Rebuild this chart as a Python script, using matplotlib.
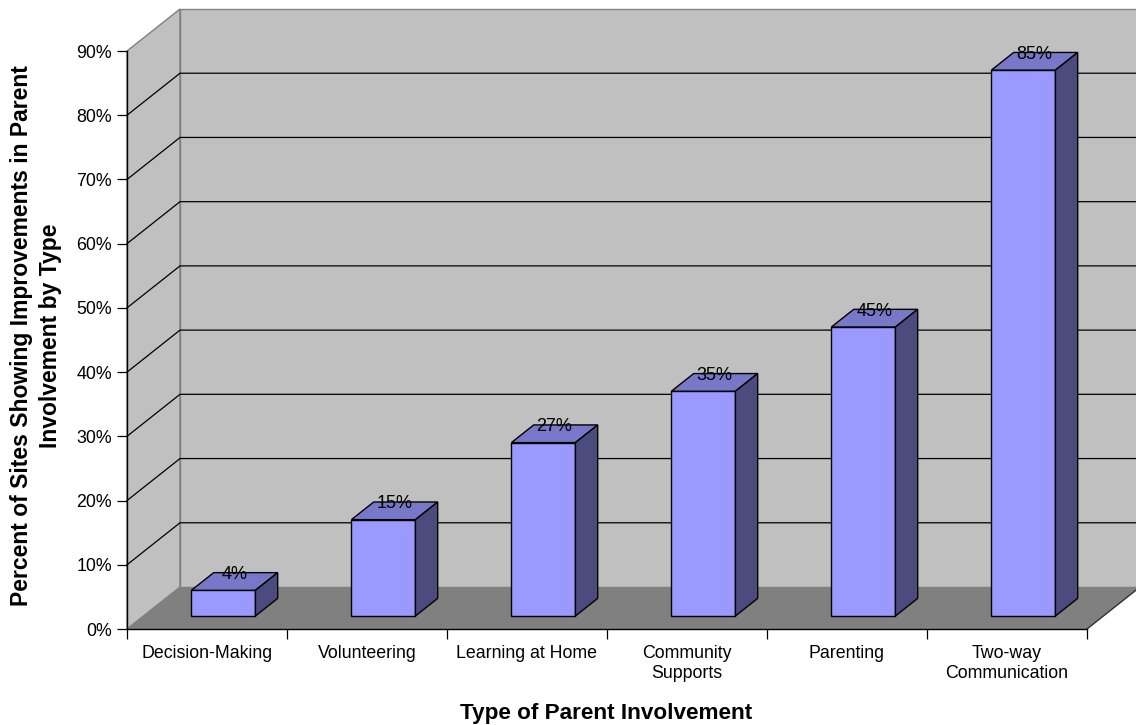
import matplotlib
matplotlib.use("Agg")
import matplotlib.pyplot as plt
from matplotlib.patches import Polygon
from matplotlib.ticker import PercentFormatter

categories = [
    "Decision-Making",
    "Volunteering",
    "Learning at Home",
    "Community\nSupports",
    "Parenting",
    "Two-way\nCommunication",
]
values = [4, 15, 27, 35, 45, 85]
y_ticks = list(range(0, 100, 10))

plt.rcParams["font.family"] = ["Liberation Sans", "DejaVu Sans"]

# pseudo-3D box: a unit of depth shifts right by DEPTH_X categories and up by DEPTH_Y percent
DEPTH_X = 53 / 160
DEPTH_Y = 42 / (578 / 90)
BAR_FRONT, BAR_BACK = 0.31, 0.73
BAR_LEFT, BAR_RIGHT = 0.3, 0.7

WALL = "#C0C0C0"
FLOOR = "#808080"
EDGE = "#808080"
BAR_FACE = "#9999FF"
BAR_TOP = "#7878C8"
BAR_SIDE = "#4B4B7E"


def proj(x, y, d):
    return (x + d * DEPTH_X, y + d * DEPTH_Y)


def face(ax, points, color, z, edge="black", lw=1.0):
    ax.add_patch(Polygon([proj(*p) for p in points], closed=True, facecolor=color,
                         edgecolor=edge, linewidth=lw, zorder=z, clip_on=False,
                         joinstyle="miter"))


n = len(categories)
top = y_ticks[-1]

fig = plt.figure(figsize=(11.36, 7.25), dpi=100)
ax = fig.add_axes([127 / 1136, 1 - 629 / 725, 960 / 1136, 578 / 725])
ax.set_xlim(0, n)
ax.set_ylim(0, top)
ax.patch.set_visible(False)

# walls and floor
face(ax, [(0, 0, 0), (0, top, 0), (0, top, 1), (0, 0, 1)], WALL, 0.5, edge=EDGE)
face(ax, [(0, 0, 1), (0, top, 1), (n, top, 1), (n, 0, 1)], WALL, 0.5, edge=EDGE)
for v in y_ticks[1:-1]:
    pts = [proj(0, v, 0), proj(0, v, 1), proj(n, v, 1)]
    ax.plot([p[0] for p in pts], [p[1] for p in pts], color="black", lw=0.9,
            zorder=0.6, clip_on=False)
face(ax, [(0, 0, 0), (n, 0, 0), (n, 0, 1), (0, 0, 1)], FLOOR, 0.7, edge="none")
edge_pts = [proj(n, 0, 0), proj(n, 0, 1)]
ax.plot([p[0] for p in edge_pts], [p[1] for p in edge_pts], color="#303030", lw=1.0,
        zorder=0.8, clip_on=False)

# bars
for i, v in enumerate(values):
    x0, x1 = i + BAR_LEFT, i + BAR_RIGHT
    face(ax, [(x0, 0, BAR_FRONT), (x1, 0, BAR_FRONT), (x1, v, BAR_FRONT), (x0, v, BAR_FRONT)],
         BAR_FACE, 3)
    face(ax, [(x0, v, BAR_FRONT), (x1, v, BAR_FRONT), (x1, v, BAR_BACK), (x0, v, BAR_BACK)],
         BAR_TOP, 3)
    face(ax, [(x1, 0, BAR_FRONT), (x1, 0, BAR_BACK), (x1, v, BAR_BACK), (x1, v, BAR_FRONT)],
         BAR_SIDE, 3)
    lx = proj(i + 0.5, v, (BAR_FRONT + BAR_BACK) / 2)[0]
    ly = proj(i + 0.5, v, BAR_BACK)[1]
    ax.text(lx, ly - 0.3, f"{v}%", ha="center", va="center", fontsize=13, zorder=4)

# axes
for side in ("top", "right"):
    ax.spines[side].set_visible(False)
for side in ("left", "bottom"):
    ax.spines[side].set_color("black")
    ax.spines[side].set_linewidth(1.0)
    ax.spines[side].set_zorder(2.5)

ax.set_yticks(y_ticks)
ax.yaxis.set_major_formatter(PercentFormatter(decimals=0))
ax.tick_params(axis="y", direction="out", length=7.2, width=0.9, pad=3.6, labelsize=12.8)

ax.set_xticks(range(n + 1))
ax.set_xticklabels([])
ax.set_xticks([i + 0.5 for i in range(n)], minor=True)
ax.set_xticklabels(categories, minor=True, fontsize=12.8, linespacing=1.25)
ax.tick_params(axis="x", which="major", direction="out", length=7.2, width=0.9)
ax.tick_params(axis="x", which="minor", length=0, pad=11.5)

fig.text(606 / 1136, 1 - 713 / 725, "Type of Parent Involvement", ha="center", va="center",
         fontsize=16.2, fontweight="bold")
fig.text(36 / 1136, 1 - 336 / 725,
         "Percent of Sites Showing Improvements in Parent\nInvolvement by Type",
         ha="center", va="center", rotation=90, fontsize=16.5, fontweight="bold",
         linespacing=1.35)

fig.savefig("out.png", dpi=100)
